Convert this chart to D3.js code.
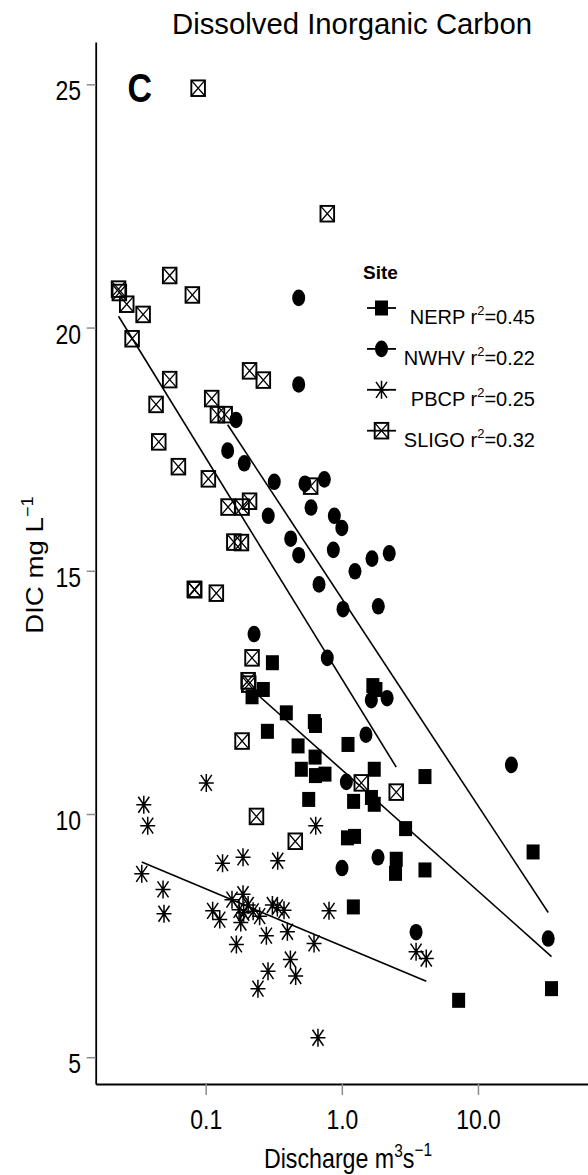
<!DOCTYPE html>
<html>
<head>
<meta charset="utf-8">
<script src="https://cdnjs.cloudflare.com/ajax/libs/d3/7.8.5/d3.min.js"></script>
<style>
  body { margin: 0; background: #fff; }
  svg { display: block; font-family: 'Liberation Sans', Arial, sans-serif; }
</style>
</head>
<body>
<script>
// discharge (m3 s-1), DIC (mg L-1) for each site
var nerp = [[0.309,13.11],[0.265,12.56],[0.219,12.41],[0.391,12.08],[0.628,11.90],[0.640,11.82],
  [0.284,11.70],[0.477,11.40],[1.11,11.43],[1.69,12.64],[1.78,12.56],[0.636,11.17],[0.504,10.92],
  [0.640,10.79],[0.752,10.82],[1.73,10.92],[4.08,10.77],[0.571,10.30],[1.22,10.26],[1.65,10.34],
  [1.73,10.20],[2.94,9.70],[1.10,9.51],[1.24,9.54],[2.51,9.07],[2.48,8.78],[4.08,8.85],
  [25.4,9.22],[1.215,8.09],[7.21,6.17],[34.7,6.41]];
var nwhv = [[0.482,20.61],[0.482,18.83],[0.167,18.10],[0.145,17.47],[0.192,17.21],[0.319,16.83],
  [0.536,16.79],[0.744,16.88],[0.288,16.13],[0.594,16.30],[0.881,16.13],[1.0,15.88],[0.421,15.66],
  [0.482,15.32],[0.866,15.43],[1.665,15.25],[2.23,15.36],[1.249,14.99],[0.680,14.72],[1.02,14.21],
  [1.853,14.27],[0.2265,13.70],[0.782,13.21],[1.647,12.34],[2.15,12.38],[1.504,11.63],[1.08,10.66],
  [17.6,11.01],[1.844,9.11],[1.003,8.89],[3.51,7.57],[32.8,7.44]];
var pbcp = [[0.101,10.64],[0.0351,10.19],[0.0375,9.76],[0.643,9.76],[0.0339,8.77],[0.0486,8.45],
  [0.0494,7.95],[0.133,8.99],[0.188,9.11],[0.338,9.04],[0.188,8.35],[0.156,8.24],[0.1125,8.01],
  [0.1268,7.83],[0.176,8.03],[0.205,8.13],[0.190,7.97],[0.223,8.0],[0.249,7.90],[0.309,8.13],
  [0.336,8.08],[0.376,8.02],[0.805,8.01],[0.181,7.77],[0.279,7.50],[0.398,7.58],[0.168,7.32],
  [0.625,7.34],[0.419,7.01],[0.287,6.77],[0.458,6.67],[0.242,6.41],[3.51,7.17],[4.17,7.03],
  [0.668,5.40]];
var sligo = [[0.088,24.92],[0.782,22.34],[0.0544,21.07],[0.0798,20.67],[0.0229,20.79],[0.0232,20.72],
  [0.0263,20.48],[0.0347,20.27],[0.0288,19.77],[0.210,19.11],[0.265,18.92],[0.0544,18.93],
  [0.0432,18.42],[0.1107,18.54],[0.122,18.21],[0.139,18.21],[0.0452,17.65],[0.063,17.14],
  [0.1046,16.89],[0.590,16.74],[0.146,16.31],[0.185,16.31],[0.210,16.43],[0.161,15.59],
  [0.183,15.58],[0.083,14.61],[0.0825,14.62],[0.1197,14.54],[0.219,13.21],[0.205,12.74],
  [0.207,12.67],[0.185,11.50],[0.236,9.95],[0.455,9.44],[1.39,10.64],[2.51,10.45]];

var siteNames = ["NERP", "NWHV", "PBCP", "SLIGO"];
var rSquared = ["0.45", "0.22", "0.25", "0.32"];
// linear fits: DIC = a + b * log10(Q)
var fitIntercept = [10.91, 14.43, 7.29, 12.78];
var fitSlope = [-2.493, -4.258, -1.172, -4.544];

var xTicks = [0.1, 1, 10];
var yTicks = [5, 10, 15, 20, 25];

var width = 588, height = 1175;
var siteData = [nerp, nwhv, pbcp, sligo];

var x = d3.scaleLog().domain([0.01556, 64.3]).range([95.7, 588]);
var y = d3.scaleLinear().domain([4.45, 25.87]).range([1084, 42]);

var svg = d3.select("body").append("svg")
  .attr("width", width)
  .attr("height", height);

// marker drawing, one shape per site
function drawMarker(g, site) {
  if (site == 0) {
    g.append("rect").attr("x", -6.5).attr("y", -7.5).attr("width", 13).attr("height", 15)
      .attr("fill", "#000");
  } else if (site == 1) {
    g.append("ellipse").attr("rx", 6.5).attr("ry", 8.3).attr("fill", "#000");
  } else if (site == 2) {
    g.append("path")
      .attr("d", "M-7.5,0H7.5M0,-9V9M-5.5,-8L5.5,8M-5.5,8L5.5,-8")
      .attr("stroke", "#000").attr("stroke-width", 1.5).attr("fill", "none");
  } else {
    g.append("rect").attr("x", -6.8).attr("y", -7.8).attr("width", 13.6).attr("height", 15.6)
      .attr("fill", "none").attr("stroke", "#000").attr("stroke-width", 1.9);
    g.append("path").attr("d", "M-6.8,-7.8L6.8,7.8M-6.8,7.8L6.8,-7.8")
      .attr("stroke", "#000").attr("stroke-width", 1.3);
  }
}

// points
siteData.forEach(function (data, i) {
  svg.append("g").selectAll("g")
    .data(data)
    .enter()
    .append("g")
    .attr("transform", d => `translate(${x(d[0])},${y(d[1])})`)
    .each(function () { drawMarker(d3.select(this), i); });
});

// fitted lines over the range of each site
var line = d3.line().x(d => x(d)).y((d, j, arr) => y(arr.a + arr.b * Math.log10(d)));
siteData.forEach(function (data, i) {
  var ext = d3.extent(data, d => d[0]);
  var pts = [ext[0], ext[1]];
  pts.a = fitIntercept[i];
  pts.b = fitSlope[i];
  svg.append("path")
    .attr("d", line(pts))
    .attr("fill", "none")
    .attr("stroke", "#000")
    .attr("stroke-width", 1.6);
});

// axes
var xAxis = svg.append("g")
  .attr("transform", `translate(0,${y.range()[0]})`)
  .call(d3.axisBottom(x).tickValues(xTicks).tickFormat(d3.format(".1f")).tickSize(11).tickSizeOuter(0));
var yAxis = svg.append("g")
  .attr("transform", `translate(${x.range()[0]},0)`)
  .call(d3.axisLeft(y).tickValues(yTicks).tickSize(9).tickSizeOuter(0));

[xAxis, yAxis].forEach(function (ax) {
  ax.select(".domain").attr("stroke", "#000").attr("stroke-width", 1.8);
  ax.selectAll(".tick line").attr("stroke", "#8c8c8c").attr("stroke-width", 1.5);
  ax.selectAll(".tick text").attr("fill", "#000").attr("font-size", 27)
    .attr("font-family", "'Liberation Sans', Arial, sans-serif");
});
xAxis.selectAll(".tick text").attr("y", 45).attr("dy", 0).attr("transform", "scale(0.85,1)");
yAxis.selectAll(".tick text").attr("x", -14.7 / 0.85).attr("y", 15.5).attr("dy", 0)
  .attr("transform", "scale(0.85,1)");

// title
svg.append("text")
  .attr("x", 172).attr("y", 34)
  .attr("font-size", 30)
  .attr("textLength", 360)
  .attr("lengthAdjust", "spacingAndGlyphs")
  .text("Dissolved Inorganic Carbon");

// panel letter
svg.append("g").attr("transform", "translate(127.5,102) scale(0.85,1)")
  .append("text")
  .attr("font-size", 40)
  .attr("font-weight", "bold")
  .text("C");

// x axis title
var xt = svg.append("g").attr("transform", "translate(348,1168.3) scale(0.86,1)")
  .append("text").attr("text-anchor", "middle").attr("font-size", 27);
xt.append("tspan").text("Discharge m");
xt.append("tspan").attr("font-size", 18).attr("dy", -11).text("3");
xt.append("tspan").attr("dy", 11).text("s");
xt.append("tspan").attr("font-size", 18).attr("dy", -12).text("\u22121");

// y axis title
var yt = svg.append("g").attr("transform", "translate(43.3,565) rotate(-90) scale(1.15,1)")
  .append("text").attr("text-anchor", "middle").attr("font-size", 24);
yt.append("tspan").text("DIC mg L");
yt.append("tspan").attr("font-size", 16).attr("dy", -10).text("\u22121");

// legend
var legend = svg.append("g");
legend.append("text")
  .attr("x", 363).attr("y", 278.5)
  .attr("font-size", 19)
  .attr("font-weight", "bold")
  .text("Site");
siteNames.forEach(function (name, i) {
  var base = 324 + i * 40.9;
  var keyY = base - 16;
  legend.append("line")
    .attr("x1", 367).attr("x2", 396)
    .attr("y1", keyY).attr("y2", keyY)
    .attr("stroke", "#000").attr("stroke-width", 1.8);
  drawMarker(legend.append("g").attr("transform", `translate(381.5,${keyY})`), i);
  var t = legend.append("text")
    .attr("x", 535).attr("y", base)
    .attr("text-anchor", "end")
    .attr("font-size", 20);
  t.append("tspan").text(name + " r");
  t.append("tspan").attr("font-size", 13).attr("dy", -9).text("2");
  t.append("tspan").attr("dy", 9).text("=" + rSquared[i]);
});
</script>
</body>
</html>
